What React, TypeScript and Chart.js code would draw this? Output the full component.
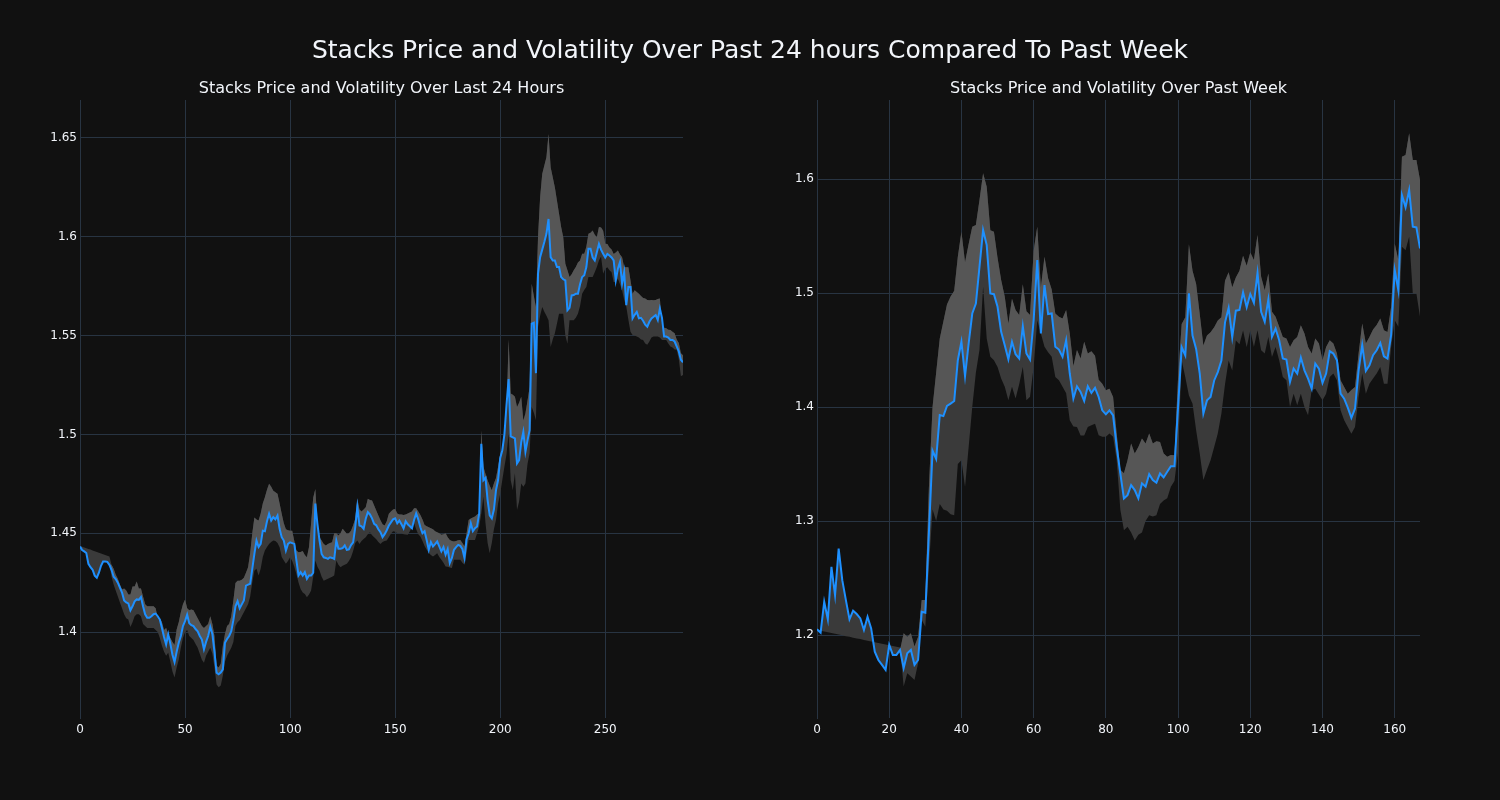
import React, { useEffect, useRef } from "react";
import { Chart, registerables } from "chart.js";

Chart.register(...registerables);

// ---------- Data: last 24 hours (5-minute steps) ----------
const DAY_PRICE = [
  1.4433,1.4415,1.4408,1.4400,1.4345,1.4328,1.4315,1.4285,1.4275,1.4300,1.4335,1.4357,1.4357,1.4355,1.4340,
  1.4315,1.4280,1.4268,1.4250,1.4225,1.4200,1.4160,1.4150,1.4145,1.4110,1.4130,1.4155,1.4165,1.4163,1.4177,
  1.4130,1.4090,1.4072,1.4072,1.4080,1.4090,1.4093,1.4080,1.4063,1.4020,1.3975,1.3937,1.3988,1.3940,1.3885,
  1.3848,1.3900,1.3946,1.3980,1.4030,1.4055,1.4088,1.4045,1.4035,1.4030,1.4015,1.4004,1.3980,1.3962,1.3912,
  1.3950,1.3980,1.4026,1.3990,1.3900,1.3794,1.3786,1.3795,1.3811,1.3946,1.3965,1.3980,1.4004,1.4060,1.4130,
  1.4156,1.4120,1.4140,1.4160,1.4235,1.4240,1.4244,1.4320,1.4395,1.4463,1.4430,1.4446,1.4513,1.4510,1.4560,
  1.4598,1.4564,1.4581,1.4570,1.4589,1.4522,1.4480,1.4463,1.4412,1.4446,1.4454,1.4450,1.4446,1.4362,1.4286,
  1.4303,1.4286,1.4303,1.4269,1.4286,1.4286,1.4300,1.4650,1.4547,1.4463,1.4395,1.4378,1.4375,1.4370,1.4378,
  1.4375,1.4370,1.4463,1.4421,1.4421,1.4425,1.4438,1.4416,1.4418,1.4440,1.4454,1.4530,1.4632,1.4539,1.4535,
  1.4522,1.4573,1.4606,1.4595,1.4575,1.4547,1.4540,1.4520,1.4505,1.4480,1.4495,1.4515,1.4539,1.4555,1.4570,
  1.4575,1.4550,1.4564,1.4545,1.4525,1.4560,1.4545,1.4535,1.4525,1.4567,1.4600,1.4570,1.4530,1.4500,1.4510,
  1.4466,1.4416,1.4455,1.4433,1.4445,1.4458,1.4433,1.4408,1.4430,1.4391,1.4420,1.4349,1.4375,1.4416,1.4430,
  1.4441,1.4436,1.4420,1.4374,1.4470,1.4500,1.4550,1.4510,1.4525,1.4534,1.4600,1.4953,1.4768,1.4780,1.4668,
  1.4590,1.4575,1.4620,1.4718,1.4769,1.4880,1.4920,1.5000,1.5150,1.5280,1.4990,1.4985,1.4980,1.4853,1.4870,
  1.4960,1.5013,1.4912,1.4970,1.5021,1.5560,1.5565,1.5310,1.5813,1.5897,1.5935,1.5973,1.6015,1.6090,1.5897,
  1.5880,1.5880,1.5847,1.5847,1.5796,1.5785,1.5779,1.5628,1.5640,1.5703,1.5705,1.5712,1.5712,1.5760,1.5796,
  1.5805,1.5847,1.5939,1.5939,1.5895,1.5880,1.5922,1.5964,1.5935,1.5914,1.5895,1.5913,1.5905,1.5895,1.5880,
  1.5779,1.5838,1.5871,1.5763,1.5821,1.5654,1.5746,1.5746,1.5587,1.5605,1.5620,1.5587,1.5590,1.5575,1.5555,
  1.5545,1.5570,1.5587,1.5595,1.5604,1.5579,1.5637,1.5590,1.5495,1.5495,1.5490,1.5478,1.5478,1.5470,1.5445,
  1.5420,1.5378,1.5365,
];

const DAY_UPPER = [
  1.4436,1.4432,1.4428,1.4424,1.4420,1.4417,1.4413,1.4409,1.4405,1.4401,1.4397,1.4393,1.4390,1.4386,1.4382,
  1.4340,1.4320,1.4290,1.4270,1.4240,1.4215,1.4220,1.4210,1.4190,1.4190,1.4230,1.4230,1.4256,1.4220,1.4220,
  1.4180,1.4140,1.4130,1.4130,1.4130,1.4130,1.4120,1.4070,1.4070,1.4050,1.4010,1.4020,1.3988,1.3970,1.3950,
  1.3935,1.4013,1.4050,1.4100,1.4140,1.4164,1.4120,1.4110,1.4114,1.4110,1.4090,1.4070,1.4050,1.4030,1.4020,
  1.4030,1.4040,1.4080,1.4040,1.3980,1.3830,1.3820,1.3840,1.3930,1.3990,1.4030,1.4040,1.4080,1.4160,1.4248,
  1.4260,1.4260,1.4265,1.4275,1.4300,1.4328,1.4400,1.4500,1.4580,1.4570,1.4564,1.4600,1.4650,1.4682,1.4720,
  1.4750,1.4735,1.4715,1.4707,1.4700,1.4650,1.4598,1.4550,1.4520,1.4515,1.4513,1.4513,1.4460,1.4412,1.4404,
  1.4405,1.4410,1.4390,1.4379,1.4430,1.4550,1.4680,1.4724,1.4550,1.4480,1.4463,1.4445,1.4438,1.4445,1.4450,
  1.4454,1.4500,1.4500,1.4488,1.4500,1.4522,1.4510,1.4497,1.4500,1.4513,1.4540,1.4573,1.4674,1.4620,1.4610,
  1.4620,1.4632,1.4674,1.4668,1.4665,1.4640,1.4615,1.4590,1.4565,1.4545,1.4539,1.4560,1.4598,1.4610,1.4620,
  1.4623,1.4600,1.4595,1.4595,1.4592,1.4595,1.4600,1.4605,1.4610,1.4626,1.4626,1.4610,1.4592,1.4570,1.4542,
  1.4535,1.4530,1.4525,1.4520,1.4510,1.4505,1.4500,1.4492,1.4495,1.4500,1.4480,1.4466,1.4460,1.4458,1.4460,
  1.4465,1.4466,1.4450,1.4433,1.4500,1.4567,1.4575,1.4580,1.4584,1.4595,1.4601,1.5020,1.4836,1.4800,1.4768,
  1.4740,1.4718,1.4752,1.4780,1.4836,1.4900,1.4928,1.5020,1.5100,1.5480,1.5207,1.5200,1.5190,1.5139,1.5160,
  1.5190,1.5070,1.5106,1.5170,1.5240,1.5762,1.5700,1.5645,1.6000,1.6200,1.6318,1.6360,1.6402,1.6520,1.6352,
  1.6301,1.6250,1.6183,1.6116,1.6050,1.5998,1.5863,1.5830,1.5796,1.5810,1.5830,1.5847,1.5870,1.5880,1.5914,
  1.5914,1.5950,1.6015,1.6020,1.6032,1.6010,1.5998,1.6049,1.6047,1.6030,1.5965,1.5963,1.5946,1.5935,1.5913,
  1.5920,1.5930,1.5910,1.5896,1.5846,1.5846,1.5846,1.5780,1.5712,1.5729,1.5720,1.5712,1.5700,1.5690,1.5687,
  1.5680,1.5679,1.5680,1.5679,1.5680,1.5685,1.5687,1.5545,1.5540,1.5537,1.5530,1.5528,1.5520,1.5512,1.5480,
  1.5462,1.5411,1.5400,
];

const DAY_LOWER = [
  1.4433,1.4415,1.4408,1.4400,1.4345,1.4328,1.4315,1.4285,1.4275,1.4300,1.4335,1.4357,1.4357,1.4355,1.4340,
  1.4280,1.4240,1.4210,1.4180,1.4150,1.4120,1.4090,1.4070,1.4063,1.4026,1.4050,1.4080,1.4090,1.4090,1.4080,
  1.4040,1.4030,1.4020,1.4020,1.4020,1.4020,1.4010,1.4000,1.3970,1.3930,1.3900,1.3880,1.3895,1.3850,1.3800,
  1.3770,1.3820,1.3860,1.3920,1.3970,1.4000,1.4010,1.3980,1.3970,1.3960,1.3940,1.3920,1.3890,1.3860,1.3845,
  1.3880,1.3900,1.3920,1.3890,1.3820,1.3735,1.3720,1.3730,1.3780,1.3850,1.3880,1.3900,1.3920,1.3950,1.4030,
  1.4050,1.4060,1.4080,1.4100,1.4120,1.4140,1.4180,1.4250,1.4310,1.4320,1.4286,1.4320,1.4380,1.4412,1.4430,
  1.4446,1.4455,1.4463,1.4460,1.4450,1.4429,1.4380,1.4362,1.4345,1.4360,1.4379,1.4360,1.4330,1.4294,1.4250,
  1.4218,1.4200,1.4193,1.4176,1.4190,1.4210,1.4280,1.4362,1.4330,1.4311,1.4280,1.4260,1.4265,1.4269,1.4275,
  1.4280,1.4286,1.4362,1.4340,1.4328,1.4335,1.4340,1.4345,1.4360,1.4379,1.4410,1.4450,1.4463,1.4446,1.4460,
  1.4471,1.4480,1.4495,1.4505,1.4490,1.4480,1.4470,1.4455,1.4446,1.4455,1.4460,1.4463,1.4480,1.4497,1.4510,
  1.4508,1.4500,1.4500,1.4500,1.4495,1.4494,1.4492,1.4510,1.4530,1.4550,1.4520,1.4495,1.4483,1.4460,1.4435,
  1.4416,1.4400,1.4390,1.4382,1.4390,1.4399,1.4380,1.4366,1.4350,1.4332,1.4330,1.4326,1.4324,1.4366,1.4366,
  1.4366,1.4366,1.4350,1.4340,1.4400,1.4466,1.4466,1.4466,1.4466,1.4500,1.4534,1.4600,1.4685,1.4550,1.4450,
  1.4399,1.4450,1.4520,1.4567,1.4651,1.4700,1.4769,1.4836,1.4900,1.5005,1.4768,1.4718,1.4803,1.4617,1.4660,
  1.4752,1.4735,1.4752,1.4850,1.4904,1.5139,1.5110,1.5072,1.5543,1.5600,1.5645,1.5620,1.5600,1.5577,1.5442,
  1.5480,1.5510,1.5560,1.5611,1.5611,1.5611,1.5500,1.5459,1.5577,1.5577,1.5577,1.5590,1.5611,1.5650,1.5712,
  1.5730,1.5746,1.5796,1.5796,1.5796,1.5820,1.5847,1.5880,1.5900,1.5813,1.5838,1.5846,1.5830,1.5820,1.5771,
  1.5770,1.5788,1.5760,1.5729,1.5680,1.5646,1.5580,1.5520,1.5503,1.5500,1.5495,1.5490,1.5480,1.5478,1.5460,
  1.5453,1.5470,1.5490,1.5495,1.5495,1.5495,1.5490,1.5478,1.5478,1.5478,1.5460,1.5445,1.5440,1.5430,1.5428,
  1.5380,1.5294,1.5300,
];

// ---------- Data: past week (hourly) ----------
const WEEK_PRICE = [
  1.2050,1.2020,1.2292,1.2137,1.2598,1.2350,1.2758,1.2481,1.2306,1.2137,1.2213,1.2184,1.2146,1.2044,1.2160,
  1.2058,1.1854,1.1781,1.1738,1.1694,1.1913,1.1825,1.1825,1.1869,1.1709,1.1840,1.1869,1.1738,1.1781,1.2204,
  1.2195,1.2900,1.3618,1.3545,1.3930,1.3920,1.4010,1.4030,1.4053,1.4410,1.4572,1.4270,1.4557,1.4820,1.4908,
  1.5230,1.5552,1.5420,1.4996,1.4990,1.4879,1.4659,1.4542,1.4419,1.4572,1.4463,1.4425,1.4709,1.4469,1.4416,
  1.4762,1.5289,1.4645,1.5069,1.4815,1.4820,1.4528,1.4504,1.4440,1.4586,1.4294,1.4074,1.4182,1.4133,1.4053,
  1.4182,1.4124,1.4168,1.4088,1.3971,1.3936,1.3971,1.3927,1.3650,1.3417,1.3198,1.3227,1.3315,1.3271,1.3198,
  1.3330,1.3301,1.3411,1.3359,1.3336,1.3417,1.3382,1.3432,1.3481,1.3481,1.4000,1.4525,1.4452,1.4997,1.4627,
  1.4510,1.4292,1.3942,1.4058,1.4088,1.4233,1.4306,1.4408,1.4743,1.4869,1.4612,1.4845,1.4851,1.5006,1.4875,
  1.4991,1.4914,1.5177,1.4835,1.4747,1.4943,1.4615,1.4688,1.4586,1.4425,1.4416,1.4220,1.4337,1.4293,1.4434,
  1.4322,1.4249,1.4161,1.4381,1.4337,1.4211,1.4293,1.4489,1.4469,1.4410,1.4117,1.4073,1.3994,1.3904,1.3986,
  1.4322,1.4542,1.4316,1.4366,1.4454,1.4498,1.4562,1.4445,1.4425,1.4630,1.5201,1.5025,1.5859,1.5751,1.5903,
  1.5581,1.5575,1.5391,
];

const WEEK_UPPER = [
  1.2050,1.2020,1.2292,1.2137,1.2598,1.2350,1.2758,1.2481,1.2306,1.2137,1.2213,1.2184,1.2146,1.2044,1.2160,
  1.2058,1.1854,1.1781,1.1738,1.1694,1.1913,1.1825,1.1825,1.1869,1.2015,1.1985,1.2015,1.1900,1.1985,1.2306,
  1.2306,1.3300,1.4000,1.4300,1.4600,1.4750,1.4900,1.4970,1.5020,1.5318,1.5538,1.5270,1.5430,1.5582,1.5597,
  1.5816,1.6050,1.5933,1.5550,1.5538,1.5310,1.5113,1.4967,1.4733,1.4950,1.4850,1.4806,1.5076,1.4840,1.4806,
  1.5370,1.5581,1.5050,1.5318,1.5130,1.5030,1.4820,1.4791,1.4776,1.4850,1.4645,1.4360,1.4499,1.4426,1.4572,
  1.4470,1.4490,1.4450,1.4240,1.4204,1.4146,1.4160,1.4088,1.3767,1.3450,1.3420,1.3534,1.3680,1.3592,1.3650,
  1.3723,1.3680,1.3767,1.3680,1.3700,1.3694,1.3592,1.3563,1.3580,1.3577,1.4262,1.4729,1.4787,1.5428,1.5195,
  1.5079,1.4816,1.4539,1.4627,1.4656,1.4700,1.4758,1.4787,1.5108,1.5181,1.5050,1.5137,1.5195,1.5326,1.5239,
  1.5356,1.5289,1.5508,1.5142,1.5025,1.5171,1.4835,1.4791,1.4703,1.4615,1.4600,1.4527,1.4586,1.4615,1.4718,
  1.4644,1.4527,1.4469,1.4600,1.4557,1.4410,1.4527,1.4586,1.4557,1.4469,1.4234,1.4176,1.4117,1.4150,1.4176,
  1.4469,1.4732,1.4557,1.4615,1.4680,1.4720,1.4776,1.4674,1.4659,1.4879,1.5435,1.5289,1.6196,1.6211,1.6401,
  1.6167,1.6167,1.5991,
];

const WEEK_LOWER = [
  1.2044,1.2037,1.2031,1.2024,1.2017,1.2011,1.2004,1.1997,1.1990,1.1984,1.1977,1.1970,1.1964,1.1957,1.1950,
  1.1944,1.1937,1.1930,1.1923,1.1917,1.1910,1.1903,1.1897,1.1890,1.1548,1.1665,1.1636,1.1606,1.1752,1.2131,
  1.2073,1.2600,1.3100,1.3000,1.3150,1.3100,1.3090,1.3060,1.3050,1.3500,1.3533,1.3298,1.3650,1.4000,1.4300,
  1.4499,1.5055,1.4600,1.4440,1.4411,1.4352,1.4250,1.4177,1.4060,1.4177,1.4074,1.4200,1.4352,1.4060,1.4090,
  1.4352,1.4762,1.4645,1.4528,1.4480,1.4440,1.4264,1.4235,1.4177,1.4120,1.3884,1.3830,1.3825,1.3750,1.3750,
  1.3825,1.3840,1.3854,1.3752,1.3738,1.3738,1.3767,1.3738,1.3534,1.3100,1.2920,1.2950,1.2900,1.2830,1.2880,
  1.2900,1.3000,1.3050,1.3040,1.3050,1.3150,1.3180,1.3200,1.3300,1.3350,1.3600,1.4408,1.4262,1.4100,1.4029,
  1.3796,1.3592,1.3359,1.3450,1.3534,1.3650,1.3767,1.3942,1.4200,1.4408,1.4321,1.4583,1.4550,1.4670,1.4525,
  1.4670,1.4527,1.4674,1.4498,1.4469,1.4615,1.4439,1.4527,1.4410,1.4264,1.4234,1.4000,1.4117,1.4015,1.4117,
  1.4000,1.3927,1.4147,1.4161,1.4110,1.4059,1.4117,1.4264,1.4293,1.4234,1.3971,1.3883,1.3825,1.3766,1.3825,
  1.4088,1.4293,1.4117,1.4205,1.4250,1.4293,1.4352,1.4205,1.4205,1.4527,1.4761,1.4703,1.5406,1.5376,1.5493,
  1.4996,1.4996,1.4791,
];

// last index of the initial segment where the band is only the single (darker) wedge
const DAY_WEDGE_END = 14;
const WEEK_WEDGE_END = 23;

// ---------- Axis ticks & ranges ----------
const DAY_X_TICKS = [0, 50, 100, 150, 200, 250];
const DAY_Y_TICKS = [1.4, 1.45, 1.5, 1.55, 1.6, 1.65];
const DAY_X_RANGE = [0, 287];
const DAY_Y_RANGE = [1.3565, 1.6692];

const WEEK_X_TICKS = [0, 20, 40, 60, 80, 100, 120, 140, 160];
const WEEK_Y_TICKS = [1.2, 1.3, 1.4, 1.5, 1.6];
const WEEK_X_RANGE = [0, 167];
const WEEK_Y_RANGE = [1.1272, 1.6693];

const MAIN_TITLE = "Stacks Price and Volatility Over Past 24 hours Compared To Past Week";
const DAY_TITLE = "Stacks Price and Volatility Over Last 24 Hours";
const WEEK_TITLE = "Stacks Price and Volatility Over Past Week";

const BG = "#111111";
const GRID = "#283442";
const TEXT = "#f2f5fa";
const LINE = "#1e90ff";
const BAND_DARK = "rgb(58,58,58)";
const BAND_LIGHT = "rgb(86,86,86)";
const FONT = "'DejaVu Sans', sans-serif";

type PanelProps = {
  price: number[];
  upper: number[];
  lower: number[];
  wedgeEnd: number;
  xTicks: number[];
  yTicks: number[];
  xRange: number[];
  yRange: number[];
  padLeft: number;
  padRight: number;
};

function Panel(props: PanelProps) {
  const ref = useRef<HTMLCanvasElement | null>(null);
  useEffect(() => {
    const canvas = ref.current;
    if (!canvas) return;
    const { price, upper, lower, wedgeEnd, xTicks, yTicks, xRange, yRange, padLeft, padRight } = props;
    const pts = (arr: number[]) => arr.map((v, i) => ({ x: i, y: v }));
    const lightUpper = upper.map((u, i) => (i <= wedgeEnd ? price[i] : u));
    const Y_AXIS_W = 40;
    const X_AXIS_H = 30;
    const chart = new Chart(canvas, {
      type: "line",
      data: {
        datasets: [
          {
            label: "price",
            data: pts(price),
            borderColor: LINE,
            borderWidth: 2,
            pointRadius: 0,
            fill: false,
            tension: 0,
          },
          {
            label: "upperLight",
            data: pts(lightUpper),
            borderColor: "rgba(0,0,0,0)",
            borderWidth: 0,
            pointRadius: 0,
            fill: { target: 0 },
            backgroundColor: BAND_LIGHT,
            tension: 0,
          },
          {
            label: "upper",
            data: pts(upper),
            borderColor: "rgba(0,0,0,0)",
            borderWidth: 0,
            pointRadius: 0,
            fill: { target: 3 },
            backgroundColor: BAND_DARK,
            tension: 0,
          },
          {
            label: "lower",
            data: pts(lower),
            borderColor: "rgba(0,0,0,0)",
            borderWidth: 0,
            pointRadius: 0,
            fill: false,
            tension: 0,
          },
        ],
      },
      options: {
        responsive: false,
        animation: false,
        devicePixelRatio: 1,
        layout: {
          autoPadding: false,
          padding: { top: 100, bottom: 82 - X_AXIS_H, left: padLeft - Y_AXIS_W, right: padRight },
        },
        plugins: {
          legend: { display: false },
          tooltip: { enabled: false },
          title: { display: false },
        },
        scales: {
          x: {
            type: "linear",
            min: xRange[0],
            max: xRange[1],
            grid: { color: GRID, lineWidth: 1, drawTicks: false },
            border: { display: false },
            ticks: {
              color: TEXT,
              font: { family: FONT, size: 12 },
              padding: 5,
              maxRotation: 0,
              autoSkip: false,
              callback: (v: any) => String(v),
            },
            afterBuildTicks: (axis: any) => {
              axis.ticks = xTicks.map((v) => ({ value: v }));
            },
            afterFit: (scale: any) => {
              scale.height = X_AXIS_H;
            },
          },
          y: {
            type: "linear",
            min: yRange[0],
            max: yRange[1],
            grid: { color: GRID, lineWidth: 1, drawTicks: false },
            border: { display: true, color: GRID, width: 1 },
            ticks: {
              color: TEXT,
              font: { family: FONT, size: 12 },
              padding: 3,
              autoSkip: false,
              callback: (v: any) => String(parseFloat(Number(v).toFixed(2))),
            },
            afterBuildTicks: (axis: any) => {
              axis.ticks = yTicks.map((v) => ({ value: v }));
            },
            afterFit: (scale: any) => {
              scale.width = Y_AXIS_W;
            },
          },
        },
      } as any,
    });
    return () => {
      chart.destroy();
    };
  }, []);
  return <canvas ref={ref} width={750} height={800} style={{ display: "block", width: 750, height: 800 }} />;
}

export default function App() {
  return (
    <div
      style={{
        position: "absolute",
        left: 0,
        top: 0,
        width: 1500,
        height: 800,
        background: BG,
        overflow: "hidden",
        fontFamily: FONT,
      }}
    >
      <div style={{ position: "absolute", left: 0, top: 0 }}>
        <Panel
          price={DAY_PRICE}
          upper={DAY_UPPER}
          lower={DAY_LOWER}
          wedgeEnd={DAY_WEDGE_END}
          xTicks={DAY_X_TICKS}
          yTicks={DAY_Y_TICKS}
          xRange={DAY_X_RANGE}
          yRange={DAY_Y_RANGE}
          padLeft={80}
          padRight={67}
        />
      </div>
      <div style={{ position: "absolute", left: 750, top: 0 }}>
        <Panel
          price={WEEK_PRICE}
          upper={WEEK_UPPER}
          lower={WEEK_LOWER}
          wedgeEnd={WEEK_WEDGE_END}
          xTicks={WEEK_X_TICKS}
          yTicks={WEEK_Y_TICKS}
          xRange={WEEK_X_RANGE}
          yRange={WEEK_Y_RANGE}
          padLeft={67}
          padRight={80}
        />
      </div>
      <div
        style={{
          position: "absolute",
          left: 0,
          top: 37,
          width: 1500,
          textAlign: "center",
          fontSize: 25,
          lineHeight: "25px",
          color: TEXT,
          whiteSpace: "nowrap",
        }}
      >
        {MAIN_TITLE}
      </div>
      <div
        style={{
          position: "absolute",
          left: 81.5,
          top: 80,
          width: 600,
          textAlign: "center",
          fontSize: 16,
          lineHeight: "16px",
          color: TEXT,
          whiteSpace: "nowrap",
        }}
      >
        {DAY_TITLE}
      </div>
      <div
        style={{
          position: "absolute",
          left: 818.5,
          top: 80,
          width: 600,
          textAlign: "center",
          fontSize: 16,
          lineHeight: "16px",
          color: TEXT,
          whiteSpace: "nowrap",
        }}
      >
        {WEEK_TITLE}
      </div>
    </div>
  );
}
